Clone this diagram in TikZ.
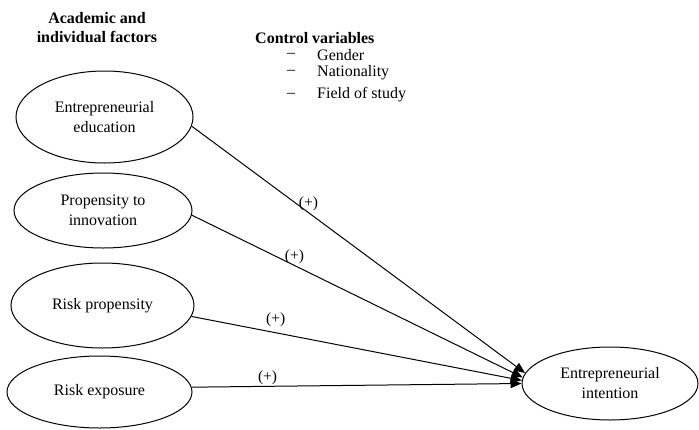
\documentclass[tikz,border=0pt]{standalone}
\usepackage{fontspec}
\setmainfont{Liberation Serif}
\usetikzlibrary{shapes.geometric,arrows.meta}

\begin{document}
\begin{tikzpicture}[
    x=1pt, y=-1pt,
    factor/.style={draw, ellipse, line width=1pt, align=center, inner sep=0pt,
        font=\fontsize{16}{20}\selectfont},
    effect/.style={line width=1pt, -{Triangle[length=11pt,width=9pt]}},
    sign/.style={font=\fontsize{15.5}{18}\selectfont, inner sep=1pt},
    header/.style={align=center, font=\bfseries\fontsize{16}{19}\selectfont},
    item/.style={anchor=west, inner sep=0pt, font=\fontsize{16}{19}\selectfont}
]
\useasboundingbox (0,0) rectangle (699,429);

\node[header] (factors) at (97,27.5) {Academic and \\ individual factors};
\node[header, anchor=west, inner sep=0pt] (controls) at (255,38) {Control variables};
\node[item] (dash1) at (287,55) {--};
\node[item] (dash2) at (287,72.5) {--};
\node[item] (dash3) at (287,95) {--};
\node[item] (gender) at (317,55) {Gender};
\node[item] (nation) at (317,72.5) {Nationality};
\node[item] (field) at (317,95) {Field of study};

\node[factor, minimum width=177pt, minimum height=92pt] (edu) at (104.5,117) {Entrepreneurial \\ education};
\node[factor, minimum width=178pt, minimum height=75pt] (innov) at (103,210.5) {Propensity to \\ innovation};
\node[factor, minimum width=183pt, minimum height=85pt] (riskprop) at (102.5,305.5) {Risk propensity};
\node[factor, minimum width=185pt, minimum height=72pt] (riskexp) at (99.5,392) {Risk exposure};
\node[factor, minimum width=176pt, minimum height=73pt] (intent) at (610,383.5) {Entrepreneurial \\ intention};

\draw[effect] (edu.-6.5) -- (intent.173.5) node[sign, pos=0.35, above] (s1) {(+)};
\draw[effect] (innov.-3) -- (intent.176) node[sign, pos=0.31, above] (s2) {(+)};
\draw[effect] (riskprop.-7) -- (intent.178.5) node[sign, pos=0.255, above=4pt] (s3) {(+)};
\draw[effect] (riskexp.3) -- (intent.180) node[sign, pos=0.23, above] (s4) {(+)};
\end{tikzpicture}
\end{document}
